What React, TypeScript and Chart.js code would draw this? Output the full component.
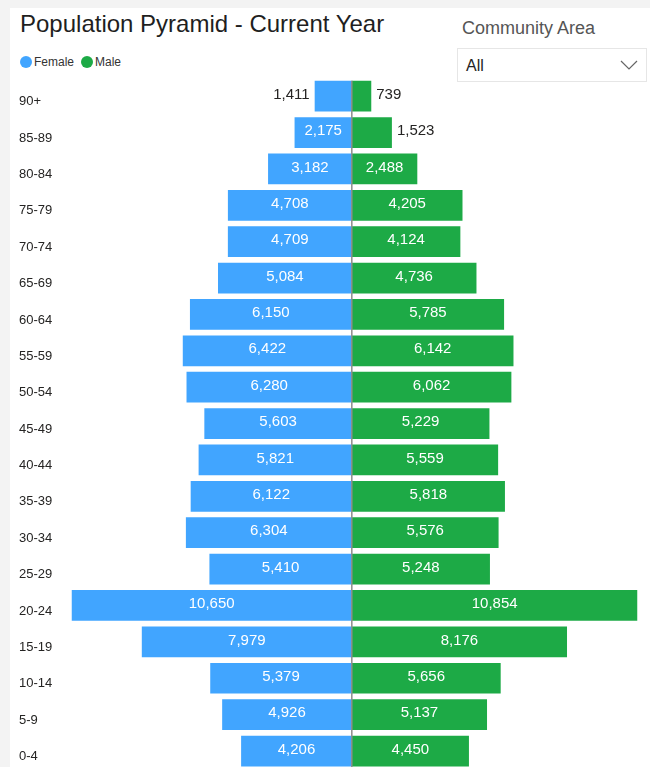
import React, { useEffect, useRef } from "react";
import { Chart, registerables } from "chart.js";

Chart.register(...registerables);

const ageGroups = ["90+", "85-89", "80-84", "75-79", "70-74", "65-69", "60-64", "55-59", "50-54", "45-49", "40-44", "35-39", "30-34", "25-29", "20-24", "15-19", "10-14", "5-9", "0-4"];
const femaleValues = [1411, 2175, 3182, 4708, 4709, 5084, 6150, 6422, 6280, 5603, 5821, 6122, 6304, 5410, 10650, 7979, 5379, 4926, 4206];
const maleValues = [739, 1523, 2488, 4205, 4124, 4736, 5785, 6142, 6062, 5229, 5559, 5818, 5576, 5248, 10854, 8176, 5656, 5137, 4450];
const seriesNames = ["Female", "Male"];

const BLUE = "#41a5ff";
const GREEN = "#1daa46";
const FONT = '"Liberation Sans", Arial, sans-serif';

const pyramidPlugin = {
  id: "pyramidLabels",
  afterDatasetsDraw(chart: any) {
    const { ctx, chartArea, scales } = chart;
    const x0 = scales.x.getPixelForValue(0);
    const firstBar: any = chart.getDatasetMeta(0).data[0];
    ctx.save();
    ctx.strokeStyle = "#8c8c8c";
    ctx.lineWidth = 1.5;
    ctx.beginPath();
    ctx.moveTo(x0, firstBar.y - firstBar.height / 2);
    ctx.lineTo(x0, chartArea.bottom);
    ctx.stroke();

    ctx.font = "15px " + FONT;
    ctx.textBaseline = "middle";
    chart.data.datasets.forEach((ds: any, di: number) => {
      const meta = chart.getDatasetMeta(di);
      meta.data.forEach((bar: any, i: number) => {
        const v = Math.abs(ds.data[i]);
        const text = v.toLocaleString("en-US");
        const w = ctx.measureText(text).width;
        const { x, base, y } = bar.getProps(["x", "base", "y"], true);
        const barW = Math.abs(x - base);
        const ty = y - 1.5;
        if (w + 10 <= barW) {
          ctx.fillStyle = "#ffffff";
          ctx.textAlign = "center";
          ctx.fillText(text, (x + base) / 2, ty);
        } else {
          ctx.fillStyle = "#252423";
          if (di === 0) {
            ctx.textAlign = "right";
            ctx.fillText(text, Math.min(x, base) - 5, ty);
          } else {
            ctx.textAlign = "left";
            ctx.fillText(text, Math.max(x, base) + 5, ty);
          }
        }
      });
    });
    ctx.restore();
  },
};

export default function App() {
  const canvasRef = useRef<HTMLCanvasElement | null>(null);

  useEffect(() => {
    if (!canvasRef.current) return;
    const chart = new Chart(canvasRef.current, {
      type: "bar",
      data: {
        labels: ageGroups,
        datasets: [
          {
            label: seriesNames[0],
            data: femaleValues.map((v) => -v),
            backgroundColor: BLUE,
            borderWidth: 0,
            barPercentage: 0.845,
            categoryPercentage: 1,
          },
          {
            label: seriesNames[1],
            data: maleValues,
            backgroundColor: GREEN,
            borderWidth: 0,
            barPercentage: 0.845,
            categoryPercentage: 1,
          },
        ],
      },
      options: {
        indexAxis: "y",
        animation: false,
        responsive: false,
        devicePixelRatio: 1,
        layout: { padding: { left: 19, right: 12.5, top: 78, bottom: 5 } },
        plugins: {
          legend: { display: false },
          tooltip: { enabled: false },
          title: { display: false },
        },
        scales: {
          x: {
            stacked: true,
            display: false,
            min: -10650,
            max: 10854,
          },
          y: {
            stacked: true,
            grid: { display: false },
            border: { display: false },
            afterFit: (scale: any) => {
              scale.width = 52.5;
            },
            ticks: {
              crossAlign: "far",
              labelOffset: 5.5,
              color: "#252423",
              font: { family: FONT, size: 13 },
              autoSkip: false,
            },
          },
        },
      },
      plugins: [pyramidPlugin],
    } as any);
    return () => chart.destroy();
  }, []);

  return (
    <div
      style={{
        position: "absolute",
        left: 0,
        top: 0,
        width: 650,
        height: 767,
        overflow: "hidden",
        background: "#f3f3f3",
        fontFamily: FONT,
      }}
    >
      <div style={{ position: "absolute", left: 10, top: 8, right: 0, bottom: 0, background: "#ffffff" }} />
      <div style={{ position: "absolute", left: 20, top: 9, fontSize: 24, color: "#1f1f1f", whiteSpace: "nowrap", lineHeight: "30px" }}>
        Population Pyramid - Current Year
      </div>
      <div style={{ position: "absolute", left: 20, top: 54, height: 16, display: "flex", alignItems: "center", fontSize: 12, color: "#333" }}>
        <span style={{ width: 12, height: 12, borderRadius: 6, background: BLUE, display: "inline-block", marginRight: 2 }} />
        <span style={{ marginRight: 7 }}>{seriesNames[0]}</span>
        <span style={{ width: 12, height: 12, borderRadius: 6, background: GREEN, display: "inline-block", marginRight: 2 }} />
        <span>{seriesNames[1]}</span>
      </div>
      <div style={{ position: "absolute", left: 462, top: 16, fontSize: 18, color: "#555", lineHeight: "24px", whiteSpace: "nowrap" }}>
        Community Area
      </div>
      <div
        style={{
          position: "absolute",
          left: 457,
          top: 48,
          width: 190,
          height: 34,
          border: "1px solid #e6e6e6",
          boxSizing: "border-box",
          background: "#fff",
        }}
      >
        <span style={{ position: "absolute", left: 8, top: 7, fontSize: 16, color: "#252423", lineHeight: "20px" }}>All</span>
        <svg style={{ position: "absolute", right: 8, top: 11 }} width="18" height="10" viewBox="0 0 18 10">
          <polyline points="1,1 9,9 17,1" fill="none" stroke="#666" strokeWidth="1.2" />
        </svg>
      </div>
      <canvas ref={canvasRef} width={650} height={780} style={{ position: "absolute", left: 0, top: 0, width: 650, height: 780 }} />
    </div>
  );
}
